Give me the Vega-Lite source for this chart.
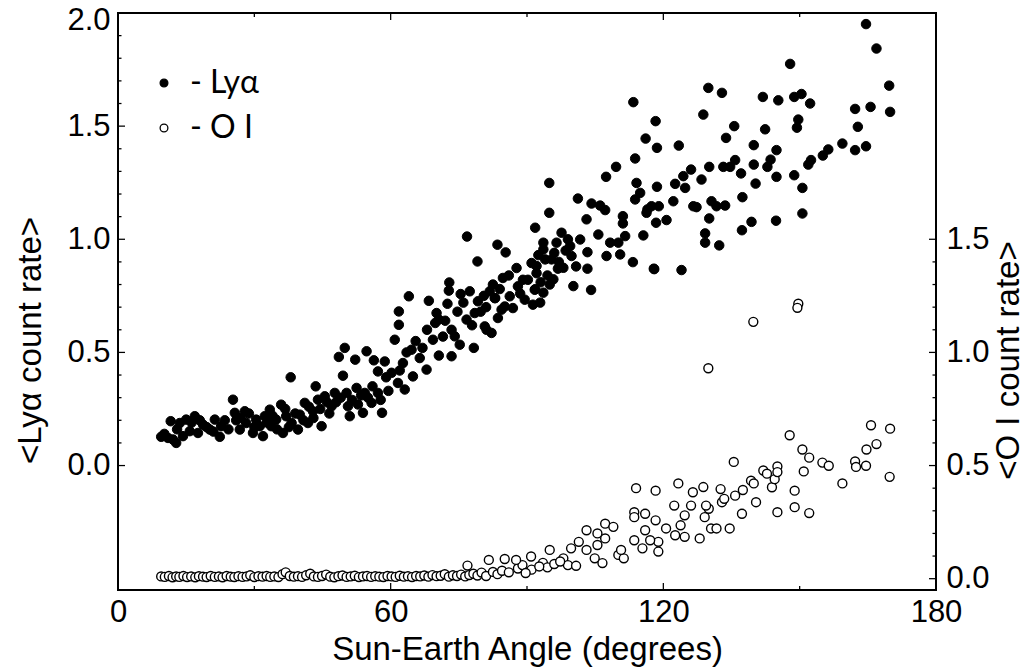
{
  "$schema": "https://vega.github.io/schema/vega-lite/v6.json",
  "width": 818,
  "height": 577,
  "autosize": "none",
  "padding": {"left": 118, "top": 13, "right": 92, "bottom": 80},
  "background": "white",
  "config": {
    "view": {"stroke": "black", "strokeWidth": 2},
    "font": "Liberation Sans",
    "axis": {"grid": false, "domain": false, "ticks": false, "labelColor": "black", "titleColor": "black", "labelFontSize": 31, "titleFontSize": 33, "titleFontWeight": "normal", "labelOverlap": false, "labelFlush": false, "labelBound": false}
  },
  "datasets": {
    "lya": [
      {"angle":9.5,"rate":0.127},{"angle":11,"rate":0.122},{"angle":12.1,"rate":0.115},{"angle":12.8,"rate":0.1},{"angle":11.6,"rate":0.196},{"angle":13.6,"rate":0.188},{"angle":15,"rate":0.203},{"angle":15.8,"rate":0.152},{"angle":16.9,"rate":0.218},{"angle":17.6,"rate":0.144},{"angle":18.7,"rate":0.181},{"angle":20.2,"rate":0.159},{"angle":21.3,"rate":0.203},{"angle":22.4,"rate":0.127},{"angle":22.7,"rate":0.174},{"angle":25.3,"rate":0.291},{"angle":25.7,"rate":0.233},{"angle":26.8,"rate":0.159},{"angle":27.9,"rate":0.24},{"angle":28.2,"rate":0.188},{"angle":29.7,"rate":0.144},{"angle":30.4,"rate":0.203},{"angle":31.2,"rate":0.174},{"angle":31.9,"rate":0.13},{"angle":32.3,"rate":0.218},{"angle":33.4,"rate":0.247},{"angle":33.7,"rate":0.174},{"angle":34.8,"rate":0.203},{"angle":35.9,"rate":0.269},{"angle":36.3,"rate":0.144},{"angle":37,"rate":0.218},{"angle":38,"rate":0.39},{"angle":38.2,"rate":0.188},{"angle":39.6,"rate":0.159},{"angle":40,"rate":0.225},{"angle":41.1,"rate":0.277},{"angle":41.8,"rate":0.188},{"angle":42.9,"rate":0.24},{"angle":43.5,"rate":0.35},{"angle":44,"rate":0.291},{"angle":44.8,"rate":0.174},{"angle":45.5,"rate":0.306},{"angle":47,"rate":0.262},{"angle":47.7,"rate":0.321},{"angle":48.6,"rate":0.48},{"angle":49.5,"rate":0.397},{"angle":49.9,"rate":0.52},{"angle":50.3,"rate":0.321},{"angle":50.6,"rate":0.262},{"angle":51,"rate":0.218},{"angle":52.2,"rate":0.468},{"angle":52.5,"rate":0.343},{"angle":53.9,"rate":0.233},{"angle":54.3,"rate":0.321},{"angle":54.7,"rate":0.505},{"angle":55.8,"rate":0.277},{"angle":56.3,"rate":0.465},{"angle":57.2,"rate":0.321},{"angle":57.2,"rate":0.416},{"angle":58.1,"rate":0.233},{"angle":58.7,"rate":0.46},{"angle":60.9,"rate":0.556},{"angle":61.6,"rate":0.365},{"angle":61.8,"rate":0.622},{"angle":61.8,"rate":0.681},{"angle":62.7,"rate":0.453},{"angle":63.1,"rate":0.336},{"angle":64,"rate":0.748},{"angle":64.6,"rate":0.512},{"angle":64.9,"rate":0.394},{"angle":66.4,"rate":0.475},{"angle":67.9,"rate":0.424},{"angle":68.4,"rate":0.728},{"angle":69.3,"rate":0.556},{"angle":70.1,"rate":0.674},{"angle":70.6,"rate":0.645},{"angle":70.6,"rate":0.486},{"angle":72.5,"rate":0.715},{"angle":72.8,"rate":0.773},{"angle":72.9,"rate":0.809},{"angle":73.4,"rate":0.6},{"angle":73.4,"rate":0.483},{"angle":74.1,"rate":0.571},{"angle":75.2,"rate":0.534},{"angle":75.4,"rate":0.758},{"angle":76.7,"rate":0.645},{"angle":77.4,"rate":0.77},{"angle":76.8,"rate":1.012},{"angle":78.3,"rate":0.52},{"angle":79.1,"rate":0.902},{"angle":79.2,"rate":0.726},{"angle":78.5,"rate":0.674},{"angle":81.1,"rate":0.6},{"angle":81.8,"rate":0.77},{"angle":82.2,"rate":0.586},{"angle":83.6,"rate":0.652},{"angle":83.5,"rate":0.976},{"angle":84.4,"rate":0.689},{"angle":84.7,"rate":0.829},{"angle":85.3,"rate":0.942},{"angle":86.2,"rate":0.748},{"angle":87.7,"rate":0.873},{"angle":86.9,"rate":0.696},{"angle":89.1,"rate":0.821},{"angle":91,"rate":0.895},{"angle":91.3,"rate":0.711},{"angle":91.7,"rate":0.777},
      {"angle":10.2,"rate":0.14},{"angle":13,"rate":0.16},{"angle":14.3,"rate":0.13},{"angle":16.2,"rate":0.19},{"angle":18,"rate":0.2},{"angle":19.5,"rate":0.17},{"angle":21,"rate":0.15},{"angle":23.5,"rate":0.2},{"angle":24.3,"rate":0.16},{"angle":26,"rate":0.2},{"angle":27,"rate":0.21},{"angle":28.8,"rate":0.23},{"angle":30,"rate":0.17},{"angle":32.8,"rate":0.19},{"angle":34,"rate":0.22},{"angle":35,"rate":0.16},{"angle":36.8,"rate":0.25},{"angle":37.6,"rate":0.17},{"angle":39,"rate":0.23},{"angle":40.8,"rate":0.2},{"angle":42,"rate":0.26},{"angle":43,"rate":0.21},{"angle":44.5,"rate":0.25},{"angle":46,"rate":0.28},{"angle":46.5,"rate":0.23},{"angle":48,"rate":0.28},{"angle":49,"rate":0.3},{"angle":51.5,"rate":0.29},{"angle":52.8,"rate":0.27},{"angle":53.5,"rate":0.31},{"angle":55,"rate":0.3},{"angle":56,"rate":0.35},{"angle":57.8,"rate":0.29},{"angle":59,"rate":0.39},{"angle":59.5,"rate":0.33},{"angle":60.2,"rate":0.41},{"angle":62,"rate":0.42},{"angle":63.5,"rate":0.5},{"angle":65.5,"rate":0.55},{"angle":67,"rate":0.52},{"angle":68,"rate":0.6},{"angle":69.8,"rate":0.63},{"angle":71.5,"rate":0.57},{"angle":72,"rate":0.64},{"angle":74.7,"rate":0.68},{"angle":76,"rate":0.72},{"angle":77.9,"rate":0.62},{"angle":79.8,"rate":0.68},{"angle":80.5,"rate":0.75},{"angle":81,"rate":0.7},{"angle":82.5,"rate":0.8},{"angle":83,"rate":0.74},{"angle":84,"rate":0.78},{"angle":85.1,"rate":0.703},{"angle":86,"rate":0.84},{"angle":88,"rate":0.792},{"angle":88.5,"rate":0.76},{"angle":89.5,"rate":0.733},{"angle":90.2,"rate":0.821},{"angle":92.1,"rate":0.85},{"angle":80.7,"rate":0.615},{"angle":82.9,"rate":0.74},
      {"angle":91.8,"rate":1.051},{"angle":93.6,"rate":0.985},{"angle":93.6,"rate":0.955},{"angle":94,"rate":0.911},{"angle":92.1,"rate":0.882},{"angle":91.8,"rate":0.779},{"angle":93.6,"rate":0.764},{"angle":92.9,"rate":0.72},{"angle":94.9,"rate":1.249},{"angle":94.9,"rate":1.117},{"angle":95.4,"rate":0.911},{"angle":95.8,"rate":0.823},{"angle":96.5,"rate":0.985},{"angle":97.6,"rate":1.029},{"angle":98,"rate":0.874},{"angle":99.5,"rate":0.97},{"angle":99.8,"rate":0.926},{"angle":100.2,"rate":0.793},{"angle":101.2,"rate":1.18},{"angle":101.7,"rate":0.999},{"angle":103.1,"rate":1.088},{"angle":103.3,"rate":0.943},{"angle":103.3,"rate":0.87},{"angle":104.1,"rate":0.776},{"angle":104.2,"rate":1.158},{"angle":105.7,"rate":1.021},{"angle":106.1,"rate":1.149},{"angle":107.2,"rate":1.129},{"angle":107.4,"rate":1.276},{"angle":108.3,"rate":0.985},{"angle":107.5,"rate":0.926},{"angle":109.6,"rate":1.32},{"angle":110.1,"rate":0.985},{"angle":110.5,"rate":0.933},{"angle":111.1,"rate":1.102},{"angle":111.1,"rate":1.07},{"angle":111.6,"rate":1.014},{"angle":113.3,"rate":0.899},{"angle":113.4,"rate":1.606},{"angle":113.8,"rate":1.357},{"angle":113.8,"rate":1.176},{"angle":114.1,"rate":1.249},{"angle":114.9,"rate":1.205},{"angle":115.6,"rate":1.017},{"angle":116.1,"rate":1.445},{"angle":116.3,"rate":1.117},{"angle":116.5,"rate":1.132},{"angle":117.4,"rate":1.146},{"angle":117.9,"rate":0.87},{"angle":118.3,"rate":1.522},{"angle":118.6,"rate":1.404},{"angle":118.6,"rate":1.232},{"angle":119,"rate":1.146},{"angle":118.4,"rate":1.073},{"angle":120.7,"rate":1.085},{"angle":122.2,"rate":1.168},{"angle":122.6,"rate":1.245},{"angle":123.4,"rate":1.414},{"angle":124,"rate":0.864},{"angle":124.4,"rate":1.279},{"angle":124.8,"rate":1.227},{"angle":126.1,"rate":1.308},{"angle":126.6,"rate":1.146},{"angle":127.3,"rate":1.142},{"angle":128.4,"rate":1.264},{"angle":128.8,"rate":1.551},{"angle":129.2,"rate":1.026},{"angle":129.2,"rate":0.985},{"angle":129.9,"rate":1.669},{"angle":130.1,"rate":1.32},{"angle":130.1,"rate":1.092},{"angle":130.6,"rate":1.168},{"angle":131.7,"rate":1.146},{"angle":132.3,"rate":0.973},{"angle":132.9,"rate":1.647},{"angle":133.2,"rate":1.32},{"angle":133.6,"rate":1.149},{"angle":133.8,"rate":1.448},{"angle":134.7,"rate":1.32},{"angle":135.6,"rate":1.5},{"angle":135.8,"rate":1.35},{"angle":137.1,"rate":1.291},{"angle":137.3,"rate":1.04},{"angle":137.4,"rate":1.186},{"angle":139.4,"rate":1.077},{"angle":139.9,"rate":1.416},{"angle":139.9,"rate":1.33},{"angle":140.3,"rate":1.246},{"angle":141.9,"rate":1.629},{"angle":142.4,"rate":1.486},{"angle":142.9,"rate":1.32},{"angle":143.6,"rate":1.352},{"angle":144.8,"rate":1.082},{"angle":144.9,"rate":1.394},{"angle":144.9,"rate":1.276},{"angle":145.3,"rate":1.614},{"angle":147.9,"rate":1.775},{"angle":148.8,"rate":1.629},{"angle":148.8,"rate":1.283},{"angle":149.4,"rate":1.493},{"angle":149.7,"rate":1.529},{"angle":150.4,"rate":1.642},{"angle":150.6,"rate":1.227},{"angle":150.6,"rate":1.114},{"angle":152.3,"rate":1.6},{"angle":151.9,"rate":1.33},{"angle":152.5,"rate":1.35},{"angle":155.1,"rate":1.37},{"angle":156.3,"rate":1.397},{"angle":159.4,"rate":1.423},{"angle":162.2,"rate":1.576},{"angle":162.2,"rate":1.394},{"angle":162.8,"rate":1.497},{"angle":164.6,"rate":1.951},{"angle":164.6,"rate":1.411},{"angle":165.6,"rate":1.585},{"angle":166.9,"rate":1.843},{"angle":169.7,"rate":1.679},{"angle":169.9,"rate":1.563},{"angle":118,"rate":0.868},
      {"angle":92.5,"rate":0.93},{"angle":94.5,"rate":0.84},{"angle":95,"rate":0.8},{"angle":96,"rate":0.94},{"angle":97,"rate":0.9},{"angle":98.5,"rate":0.95},{"angle":99,"rate":1.0},{"angle":96.8,"rate":0.87},{"angle":93,"rate":0.81},{"angle":100.8,"rate":0.88}
    ],
    "oi": [
      {"angle":9.5,"rate":0.01},{"angle":10.3,"rate":0.008},{"angle":11.2,"rate":0.012},{"angle":12,"rate":0.006},{"angle":12.8,"rate":0.01},{"angle":13.5,"rate":0.008},{"angle":14.4,"rate":0.012},{"angle":15.2,"rate":0.007},{"angle":16.1,"rate":0.01},{"angle":17,"rate":0.006},{"angle":17.8,"rate":0.011},{"angle":18.7,"rate":0.009},{"angle":19.5,"rate":0.007},{"angle":20.4,"rate":0.012},{"angle":21.3,"rate":0.008},{"angle":22.2,"rate":0.01},{"angle":23,"rate":0.006},{"angle":23.9,"rate":0.012},{"angle":24.8,"rate":0.009},{"angle":25.6,"rate":0.007},{"angle":26.5,"rate":0.011},{"angle":27.4,"rate":0.008},{"angle":28.3,"rate":0.01},{"angle":29.1,"rate":0.015},{"angle":30,"rate":0.007},{"angle":30.9,"rate":0.011},{"angle":31.8,"rate":0.009},{"angle":32.7,"rate":0.012},{"angle":33.5,"rate":0.008},{"angle":34.4,"rate":0.01},{"angle":35.3,"rate":0.007},{"angle":36.2,"rate":0.02},{"angle":36.9,"rate":0.028},{"angle":37.8,"rate":0.012},{"angle":38.7,"rate":0.009},{"angle":39.6,"rate":0.011},{"angle":40.5,"rate":0.008},{"angle":41.4,"rate":0.015},{"angle":42.3,"rate":0.022},{"angle":43.1,"rate":0.01},{"angle":44,"rate":0.008},{"angle":44.9,"rate":0.012},{"angle":45.8,"rate":0.018},{"angle":46.7,"rate":0.009},{"angle":47.6,"rate":0.006},{"angle":48.5,"rate":0.011},{"angle":49.4,"rate":0.014},{"angle":50.3,"rate":0.008},{"angle":51.2,"rate":0.01},{"angle":52.1,"rate":0.013},{"angle":53,"rate":0.007},{"angle":53.9,"rate":0.01},{"angle":54.8,"rate":0.012},{"angle":55.7,"rate":0.008},{"angle":56.6,"rate":0.011},{"angle":57.5,"rate":0.009},{"angle":58.4,"rate":0.007},{"angle":59.3,"rate":0.012},{"angle":60.2,"rate":0.01},{"angle":61.1,"rate":0.008},{"angle":62,"rate":0.013},{"angle":62.9,"rate":0.009},{"angle":63.8,"rate":0.011},{"angle":64.7,"rate":0.007},{"angle":65.6,"rate":0.012},{"angle":66.5,"rate":0.01},{"angle":67.4,"rate":0.014},{"angle":68.3,"rate":0.009},{"angle":69.2,"rate":0.016},{"angle":70.1,"rate":0.011},{"angle":71,"rate":0.013},{"angle":71.9,"rate":0.02},{"angle":72.8,"rate":0.009},{"angle":73.7,"rate":0.015},{"angle":74.6,"rate":0.012},{"angle":75.5,"rate":0.018},{"angle":76.4,"rate":0.01},{"angle":77.3,"rate":0.016},{"angle":78.2,"rate":0.022},{"angle":79.1,"rate":0.014},{"angle":80,"rate":0.027},{"angle":81,"rate":0.012},{"angle":82.5,"rate":0.03},{"angle":83.5,"rate":0.02},{"angle":84.5,"rate":0.035},{"angle":86,"rate":0.028},{"angle":88,"rate":0.045},{"angle":89,"rate":0.06},{"angle":91,"rate":0.04},{"angle":93.5,"rate":0.07},{"angle":94.5,"rate":0.05},{"angle":96,"rate":0.065},{"angle":98,"rate":0.09},{"angle":99,"rate":0.06},
      {"angle":76.9,"rate":0.058},{"angle":81.6,"rate":0.083},{"angle":85.1,"rate":0.087},{"angle":87.6,"rate":0.083},{"angle":90.9,"rate":0.098},{"angle":95,"rate":0.127},{"angle":89.7,"rate":0.025},{"angle":92.7,"rate":0.054},{"angle":97.3,"rate":0.076},{"angle":99.7,"rate":0.134},{"angle":100.8,"rate":0.057},{"angle":101.4,"rate":0.163},{"angle":103.1,"rate":0.214},{"angle":103.1,"rate":0.127},{"angle":105.5,"rate":0.149},{"angle":105.5,"rate":0.2},{"angle":107.2,"rate":0.243},{"angle":109,"rate":0.229},{"angle":107.2,"rate":0.178},{"angle":104.9,"rate":0.09},{"angle":106.6,"rate":0.069},{"angle":110.1,"rate":0.105},{"angle":111.3,"rate":0.09},{"angle":110.7,"rate":0.127},{"angle":113.6,"rate":0.294},{"angle":113.6,"rate":0.272},{"angle":114,"rate":0.4},{"angle":116,"rate":0.287},{"angle":116,"rate":0.214},{"angle":115.4,"rate":0.134},{"angle":118.3,"rate":0.389},{"angle":118.3,"rate":0.258},{"angle":118.9,"rate":0.12},{"angle":118.9,"rate":0.163},{"angle":117.1,"rate":0.17},{"angle":113.6,"rate":0.17},{"angle":120.6,"rate":0.222},{"angle":122.4,"rate":0.323},{"angle":123.3,"rate":0.421},{"angle":123.8,"rate":0.236},{"angle":122.6,"rate":0.192},{"angle":124.7,"rate":0.185},{"angle":126.1,"rate":0.323},{"angle":124.7,"rate":0.28},{"angle":126.5,"rate":0.382},{"angle":128,"rate":0.178},{"angle":128.8,"rate":0.405},{"angle":129.1,"rate":0.272},{"angle":130,"rate":0.309},{"angle":130.5,"rate":0.222},{"angle":129.4,"rate":0.323},{"angle":131.7,"rate":0.222},{"angle":132.6,"rate":0.396},{"angle":132.9,"rate":0.338},{"angle":133.4,"rate":0.353},{"angle":134.6,"rate":0.222},{"angle":135.5,"rate":0.516},{"angle":135.8,"rate":0.367},{"angle":137.3,"rate":0.287},{"angle":137.5,"rate":0.392},{"angle":139.3,"rate":0.433},{"angle":139.9,"rate":0.421},{"angle":140.4,"rate":0.338},{"angle":142,"rate":0.478},{"angle":142.8,"rate":0.464},{"angle":143.9,"rate":0.404},{"angle":144.5,"rate":0.44},{"angle":145.1,"rate":0.496},{"angle":145.1,"rate":0.471},{"angle":145.1,"rate":0.294},{"angle":147.8,"rate":0.634},{"angle":148.9,"rate":0.389},{"angle":148.9,"rate":0.316},{"angle":150.6,"rate":0.571},{"angle":150.9,"rate":0.474},{"angle":152.1,"rate":0.535},{"angle":152.1,"rate":0.29},{"angle":155,"rate":0.513},{"angle":156.4,"rate":0.499},{"angle":159.4,"rate":0.421},{"angle":162.2,"rate":0.518},{"angle":162.4,"rate":0.494},{"angle":164.6,"rate":0.499},{"angle":164.7,"rate":0.571},{"angle":165.7,"rate":0.678},{"angle":166.9,"rate":0.595},{"angle":169.9,"rate":0.663},{"angle":169.8,"rate":0.45},{"angle":149.7,"rate":1.215},{"angle":149.5,"rate":1.197},{"angle":139.8,"rate":1.135},{"angle":129.9,"rate":0.93}
    ],
    "lmaj": [{"v":0},{"v":0.5},{"v":1.0},{"v":1.5}],
    "lmin": [{"v":0.1},{"v":0.2},{"v":0.3},{"v":0.4},{"v":0.6},{"v":0.7},{"v":0.8},{"v":0.9},{"v":1.1},{"v":1.2},{"v":1.3},{"v":1.4},{"v":1.6},{"v":1.7},{"v":1.8},{"v":1.9}],
    "rmaj": [{"v":0},{"v":0.5},{"v":1.0},{"v":1.5}],
    "rmin": [{"v":0.1},{"v":0.2},{"v":0.3},{"v":0.4},{"v":0.6},{"v":0.7},{"v":0.8},{"v":0.9},{"v":1.1},{"v":1.2},{"v":1.3},{"v":1.4}],
    "xmaj": [{"v":60},{"v":120}],
    "xmin": [{"v":30},{"v":90},{"v":150}]
  },
  "layer": [
    {
      "data": {"name": "lya"},
      "transform": [{"calculate": "'Lyα'", "as": "series"}],
      "mark": {"type": "point", "shape": "circle", "size": 90, "stroke": "black", "strokeWidth": 1, "opacity": 1},
      "encoding": {
        "x": {"field": "angle", "type": "quantitative", "scale": {"domain": [0, 180], "nice": false, "zero": false},
          "axis": {"orient": "bottom", "values": [0, 60, 120, 180], "labelPadding": 7, "title": "Sun-Earth Angle (degrees)", "titlePadding": 6}},
        "y": {"field": "rate", "type": "quantitative", "scale": {"domain": [-0.55, 2.0], "nice": false, "zero": false},
          "axis": {"orient": "left", "values": [0, 0.5, 1.0, 1.5, 2.0], "format": ".1f", "labelPadding": 8, "labelFlush": 2, "labelFlushOffset": 8, "title": "<Lyα count rate>", "titleX": -88, "titleY": 327, "titleBaseline": "middle", "titleAngle": 270}},
        "fill": {"field": "series", "type": "nominal", "scale": {"domain": ["Lyα", "O I"], "range": ["black", "white"]},
          "legend": {"orient": "none", "legendX": 30, "legendY": 54, "title": null, "direction": "vertical", "labelFont": "Lato", "labelFontSize": 32, "labelColor": "black", "labelExpr": "'- ' + datum.label", "symbolType": "circle", "symbolSize": 60, "symbolStrokeColor": "black", "symbolStrokeWidth": 1.3, "rowPadding": 13, "labelOffset": 10, "padding": 0}}
      }
    },
    {
      "data": {"name": "oi"},
      "transform": [{"calculate": "'O I'", "as": "series"}],
      "mark": {"type": "point", "shape": "circle", "size": 80, "stroke": "black", "strokeWidth": 1.4, "opacity": 1},
      "encoding": {
        "x": {"field": "angle", "type": "quantitative", "scale": {"domain": [0, 180], "nice": false, "zero": false}, "axis": null},
        "y": {"field": "rate", "type": "quantitative", "scale": {"domain": [-0.05, 2.5], "nice": false, "zero": false},
          "axis": {"orient": "right", "values": [0, 0.5, 1.0, 1.5], "format": ".1f", "labelPadding": 10, "title": "<O I count rate>", "titleAngle": 270, "titleX": 72, "titleY": 347, "titleBaseline": "middle"}},
        "fill": {"field": "series", "type": "nominal"}
      }
    },
    {
      "data": {"name": "lmaj"},
      "mark": {"type": "point", "shape": "M0,-0.09L1,-0.09L1,0.09L0,0.09Z", "size": 196, "filled": true, "color": "black", "opacity": 1, "strokeWidth": 0},
      "encoding": {
        "x": {"datum": 0, "type": "quantitative", "scale": {"domain": [0, 180], "nice": false, "zero": false}, "axis": null},
        "y": {"field": "v", "type": "quantitative", "scale": {"domain": [-0.55, 2.0], "nice": false, "zero": false}, "axis": null}
      }
    },
    {
      "data": {"name": "lmin"},
      "mark": {"type": "point", "shape": "M0,-0.18L1,-0.18L1,0.18L0,0.18Z", "size": 49, "filled": true, "color": "black", "opacity": 1, "strokeWidth": 0},
      "encoding": {
        "x": {"datum": 0, "type": "quantitative", "scale": {"domain": [0, 180], "nice": false, "zero": false}, "axis": null},
        "y": {"field": "v", "type": "quantitative", "scale": {"domain": [-0.55, 2.0], "nice": false, "zero": false}, "axis": null}
      }
    },
    {
      "data": {"name": "rmaj"},
      "mark": {"type": "point", "shape": "M-1,-0.09L0,-0.09L0,0.09L-1,0.09Z", "size": 196, "filled": true, "color": "black", "opacity": 1, "strokeWidth": 0},
      "encoding": {
        "x": {"datum": 180, "type": "quantitative", "scale": {"domain": [0, 180], "nice": false, "zero": false}, "axis": null},
        "y": {"field": "v", "type": "quantitative", "scale": {"domain": [-0.05, 2.5], "nice": false, "zero": false}, "axis": null}
      }
    },
    {
      "data": {"name": "rmin"},
      "mark": {"type": "point", "shape": "M-1,-0.18L0,-0.18L0,0.18L-1,0.18Z", "size": 49, "filled": true, "color": "black", "opacity": 1, "strokeWidth": 0},
      "encoding": {
        "x": {"datum": 180, "type": "quantitative", "scale": {"domain": [0, 180], "nice": false, "zero": false}, "axis": null},
        "y": {"field": "v", "type": "quantitative", "scale": {"domain": [-0.05, 2.5], "nice": false, "zero": false}, "axis": null}
      }
    },
    {
      "data": {"name": "xmaj"},
      "mark": {"type": "point", "shape": "M-0.09,-1L0.09,-1L0.09,0L-0.09,0Z", "size": 196, "filled": true, "color": "black", "opacity": 1, "strokeWidth": 0},
      "encoding": {
        "x": {"field": "v", "type": "quantitative", "scale": {"domain": [0, 180], "nice": false, "zero": false}, "axis": null},
        "y": {"datum": -0.55, "type": "quantitative", "scale": {"domain": [-0.55, 2.0], "nice": false, "zero": false}, "axis": null}
      }
    },
    {
      "data": {"name": "xmin"},
      "mark": {"type": "point", "shape": "M-0.16,-1L0.16,-1L0.16,0L-0.16,0Z", "size": 64, "filled": true, "color": "black", "opacity": 1, "strokeWidth": 0},
      "encoding": {
        "x": {"field": "v", "type": "quantitative", "scale": {"domain": [0, 180], "nice": false, "zero": false}, "axis": null},
        "y": {"datum": -0.55, "type": "quantitative", "scale": {"domain": [-0.55, 2.0], "nice": false, "zero": false}, "axis": null}
      }
    },
    {
      "data": {"name": "xmaj"},
      "mark": {"type": "point", "shape": "M-0.09,0L0.09,0L0.09,1L-0.09,1Z", "size": 196, "filled": true, "color": "black", "opacity": 1, "strokeWidth": 0},
      "encoding": {
        "x": {"field": "v", "type": "quantitative", "scale": {"domain": [0, 180], "nice": false, "zero": false}, "axis": null},
        "y": {"datum": 2.0, "type": "quantitative", "scale": {"domain": [-0.55, 2.0], "nice": false, "zero": false}, "axis": null}
      }
    },
    {
      "data": {"name": "xmin"},
      "mark": {"type": "point", "shape": "M-0.16,0L0.16,0L0.16,1L-0.16,1Z", "size": 64, "filled": true, "color": "black", "opacity": 1, "strokeWidth": 0},
      "encoding": {
        "x": {"field": "v", "type": "quantitative", "scale": {"domain": [0, 180], "nice": false, "zero": false}, "axis": null},
        "y": {"datum": 2.0, "type": "quantitative", "scale": {"domain": [-0.55, 2.0], "nice": false, "zero": false}, "axis": null}
      }
    }
  ],
  "resolve": {"scale": {"y": "independent"}, "axis": {"x": "independent", "y": "independent"}}
}
